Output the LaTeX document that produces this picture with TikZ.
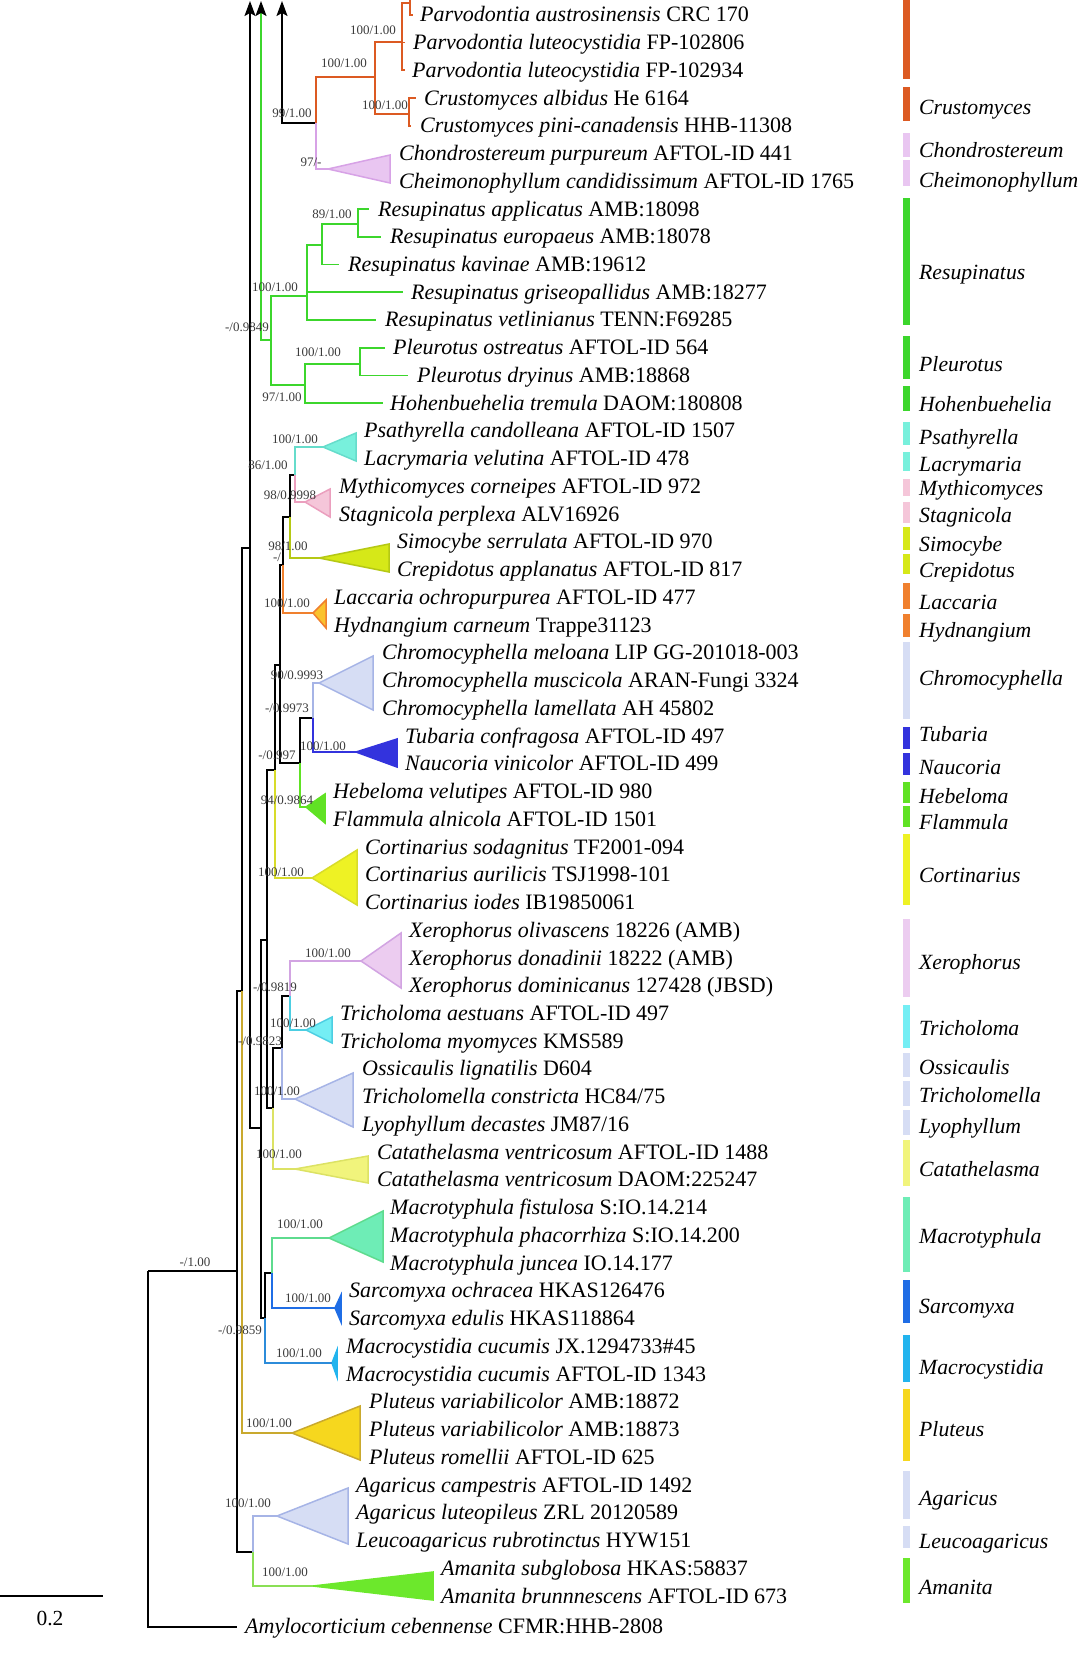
\documentclass[tikz,border=0pt]{standalone}
\usepackage{fontspec}
\setmainfont{Liberation Serif}
\usetikzlibrary{arrows.meta}

\definecolor{crust}{HTML}{DC5A22}
\definecolor{chondln}{HTML}{D7A2E6}
\definecolor{chondfl}{HTML}{E9C6F1}
\definecolor{resu}{HTML}{3CD62C}
\definecolor{psath}{HTML}{78F0DC}
\definecolor{psathln}{HTML}{66DCCB}
\definecolor{mythi}{HTML}{F5C6D9}
\definecolor{mythiln}{HTML}{EB9FBE}
\definecolor{simo}{HTML}{D6E818}
\definecolor{simoln}{HTML}{B5C814}
\definecolor{lacc}{HTML}{F0802E}
\definecolor{laccfl}{HTML}{FAC22E}
\definecolor{chromo}{HTML}{D6DDF4}
\definecolor{chromoln}{HTML}{A6B4E6}
\definecolor{tub}{HTML}{3333DD}
\definecolor{hebe}{HTML}{60E224}
\definecolor{cort}{HTML}{EEF224}
\definecolor{cortln}{HTML}{D8DC2A}
\definecolor{xero}{HTML}{ECCCF0}
\definecolor{xeroln}{HTML}{D2A4E2}
\definecolor{trich}{HTML}{74EEF4}
\definecolor{trichln}{HTML}{4CCEE2}
\definecolor{cata}{HTML}{F1F47C}
\definecolor{cataln}{HTML}{DCE264}
\definecolor{macrot}{HTML}{6EEDB6}
\definecolor{macrotln}{HTML}{5EDB8E}
\definecolor{sarco}{HTML}{1F6DE5}
\definecolor{macroc}{HTML}{22B4EE}
\definecolor{macrocln}{HTML}{2C8CDA}
\definecolor{plut}{HTML}{F6D71E}
\definecolor{plutln}{HTML}{C9A92E}
\definecolor{aman}{HTML}{6CE82C}
\definecolor{amanln}{HTML}{8ADF55}
\definecolor{suppgray}{HTML}{3A3A3A}

\tikzset{
	br/.style={line width=1.7pt},
	elbow/.style={to path={|- (\tikztotarget)}},
	clade/.style={line width=1.5pt, line join=miter},
	taxon/.style={anchor=base west, inner sep=0pt, font=\fontsize{22}{24}\selectfont},
	genus/.style={anchor=base west, inner sep=0pt, font=\fontsize{21.7}{24}\selectfont\itshape},
	supp/.style={inner sep=0pt, text=suppgray, font=\fontsize{13}{14}\selectfont},
	uparrow/.style={-{Stealth[length=15pt,width=11pt,inset=3pt,color=black]}},
}

\begin{document}
\begin{tikzpicture}[x=1pt, y=-1pt]
	
	\useasboundingbox (0,0) rectangle (1080,1654);
	
	% backbone nodes
	\coordinate (root) at (148,1271);
	\coordinate (R) at (237,1271);
	\coordinate (Q) at (242,991);
	\coordinate (P) at (250,548);
	\coordinate (M) at (261,1128);
	\coordinate (I) at (267,940);
	\coordinate (H) at (275,770);
	\coordinate (E) at (280,665);
	\coordinate (D) at (283,565);
	\coordinate (B) at (290,517);
	\coordinate (C) at (295,475);
	\coordinate (F) at (300,763);
	\coordinate (G) at (313,718);
	\coordinate (J) at (273,1108);
	\coordinate (K) at (282,1048);
	\coordinate (L) at (290,996);
	\coordinate (N) at (265,1318);
	\coordinate (O) at (272,1273);
	\coordinate (S) at (253,1552);
	
	% top nodes
	\coordinate (ptop) at (250,1);
	\coordinate (gtop) at (261,1);
	\coordinate (ktop) at (282,1);
	\coordinate (T) at (316,123);
	\coordinate (U) at (375,77);
	\coordinate (V) at (402,42);
	\coordinate (V2) at (410,3);
	\coordinate (V2top) at (410,0);
	\coordinate (W) at (409,114);
	\coordinate (X) at (271,340);
	\coordinate (Y) at (307,296);
	\coordinate (Z) at (322,245);
	\coordinate (AA) at (358,224);
	\coordinate (AB) at (305,385);
	\coordinate (AC) at (360,364);
	
	% leaf ends
	\coordinate (l0) at (413,14.8);
	\coordinate (l1) at (405,42.5);
	\coordinate (l2) at (405,70.3);
	\coordinate (l3) at (416,98);
	\coordinate (l4) at (411,125.8);
	\coordinate (l7) at (369,209);
	\coordinate (l8) at (381,236.7);
	\coordinate (l9) at (339,264.5);
	\coordinate (l10) at (403,292.2);
	\coordinate (l11) at (376,319.9);
	\coordinate (l12) at (385,347.7);
	\coordinate (l13) at (408,375.4);
	\coordinate (l14) at (383,403.2);
	\coordinate (l58) at (237,1627);
	
	% clade tips
	\coordinate (chondT) at (328,169);
	\coordinate (psathT) at (323,447);
	\coordinate (mythiT) at (305,502);
	\coordinate (simoT) at (319,558);
	\coordinate (laccT) at (313,613);
	\coordinate (chromoT) at (319,683);
	\coordinate (tubT) at (356,752);
	\coordinate (hebeT) at (306,807);
	\coordinate (cortT) at (312,878);
	\coordinate (xeroT) at (361,961);
	\coordinate (trichT) at (306,1030);
	\coordinate (lyoT) at (295,1099);
	\coordinate (cataT) at (295,1169);
	\coordinate (macrotT) at (329,1238);
	\coordinate (sarcoT) at (335,1308);
	\coordinate (macrocT) at (332,1363);
	\coordinate (plutT) at (292,1433);
	\coordinate (agarT) at (277,1516);
	\coordinate (amanT) at (313,1586);
	
	% collapsed clades
	\filldraw[clade, draw=chondln, fill=chondfl] (chondT) -- (390,155) -- (390,183) -- cycle;
	\filldraw[clade, draw=psathln, fill=psath] (psathT) -- (356,433) -- (356,461) -- cycle;
	\filldraw[clade, draw=mythiln, fill=mythi] (mythiT) -- (330,489) -- (330,517) -- cycle;
	\filldraw[clade, draw=simoln, fill=simo] (simoT) -- (389,544) -- (389,572) -- cycle;
	\filldraw[clade, draw=lacc, fill=laccfl] (laccT) -- (326,600) -- (326,628) -- cycle;
	\filldraw[clade, draw=chromoln, fill=chromo] (chromoT) -- (373,656) -- (373,710) -- cycle;
	\filldraw[clade, draw=tub, fill=tub] (tubT) -- (397,739) -- (397,767) -- cycle;
	\filldraw[clade, draw=hebe, fill=hebe] (hebeT) -- (325,794) -- (325,823) -- cycle;
	\filldraw[clade, draw=cortln, fill=cort] (cortT) -- (357,850) -- (357,905) -- cycle;
	\filldraw[clade, draw=xeroln, fill=xero] (xeroT) -- (401,933) -- (401,988) -- cycle;
	\filldraw[clade, draw=trichln, fill=trich] (trichT) -- (332,1017) -- (332,1043) -- cycle;
	\filldraw[clade, draw=chromoln, fill=chromo] (lyoT) -- (353,1073) -- (353,1127) -- cycle;
	\filldraw[clade, draw=cataln, fill=cata] (cataT) -- (368,1156) -- (368,1183) -- cycle;
	\filldraw[clade, draw=macrotln, fill=macrot] (macrotT) -- (383,1211) -- (383,1262) -- cycle;
	\filldraw[clade, draw=sarco, fill=sarco] (sarcoT) -- (341,1295) -- (341,1322) -- cycle;
	\filldraw[clade, draw=macroc, fill=macroc] (macrocT) -- (337,1350) -- (337,1377) -- cycle;
	\filldraw[clade, draw=plutln, fill=plut] (plutT) -- (360,1406) -- (360,1460) -- cycle;
	\filldraw[clade, draw=chromoln, fill=chromo] (agarT) -- (348,1488) -- (348,1544) -- cycle;
	\filldraw[clade, draw=aman, fill=aman] (amanT) -- (433,1572) -- (433,1600) -- cycle;
	
	% branches
	\draw[br, uparrow] (P) -- (ptop);
	\draw[br, resu, uparrow] (X) -| (gtop);
	\draw[br, uparrow] (T) -| (ktop);
	
	\path[br] (T) edge[elbow, crust] (U) edge[elbow, chondln] (chondT);
	\path[br] (U) edge[elbow, crust] (V) edge[elbow, crust] (W);
	\path[br] (V) edge[elbow, crust] (V2) edge[elbow, crust] (l1) edge[elbow, crust] (l2);
	\path[br] (V2) edge[elbow, crust] (l0) edge[crust] (V2top);
	\path[br] (W) edge[elbow, crust] (l3) edge[elbow, crust] (l4);
	
	\path[br] (X) edge[elbow, resu] (Y) edge[elbow, resu] (AB);
	\path[br] (Y) edge[elbow, resu] (Z) edge[elbow, resu] (l10) edge[elbow, resu] (l11);
	\path[br] (Z) edge[elbow, resu] (AA) edge[elbow, resu] (l9);
	\path[br] (AA) edge[elbow, resu] (l7) edge[elbow, resu] (l8);
	\path[br] (AB) edge[elbow, resu] (AC) edge[elbow, resu] (l14);
	\path[br] (AC) edge[elbow, resu] (l12) edge[elbow, resu] (l13);
	
	\path[br] (root) edge[elbow] (R) edge[elbow] (l58);
	\path[br] (R) edge[elbow] (Q) edge[elbow] (S);
	\path[br] (Q) edge[elbow] (P) edge[elbow, plutln] (plutT);
	\path[br] (P) edge[elbow] (M);
	\path[br] (M) edge[elbow] (I) edge[elbow] (N);
	\path[br] (I) edge[elbow] (H) edge[elbow] (J);
	\path[br] (H) edge[elbow] (E) edge[elbow, cortln] (cortT);
	\path[br] (E) edge[elbow] (D) edge[elbow] (F);
	\path[br] (D) edge[elbow] (B) edge[elbow, lacc] (laccT);
	\path[br] (B) edge[elbow] (C) edge[elbow, simoln] (simoT);
	\path[br] (C) edge[elbow, psathln] (psathT) edge[elbow, mythiln] (mythiT);
	\path[br] (F) edge[elbow] (G) edge[elbow, hebe] (hebeT);
	\path[br] (G) edge[elbow, chromoln] (chromoT) edge[elbow, tub] (tubT);
	\path[br] (J) edge[elbow] (K) edge[elbow, cataln] (cataT);
	\path[br] (K) edge[elbow] (L) edge[elbow, chromoln] (lyoT);
	\path[br] (L) edge[elbow, xeroln] (xeroT) edge[elbow, trichln] (trichT);
	\path[br] (N) edge[elbow] (O) edge[elbow, macrocln] (macrocT);
	\path[br] (O) edge[elbow, macrotln] (macrotT) edge[elbow, sarco] (sarcoT);
	\path[br] (S) edge[elbow, chromoln] (agarT) edge[elbow, amanln] (amanT);
	
	% support values
	\node[supp] (s1) at (373,30) {100/1.00};
	\node[supp] (s2) at (344,63) {100/1.00};
	\node[supp] (s3) at (385,105) {100/1.00};
	\node[supp] (s4) at (292,113) {99/1.00};
	\node[supp] (s5) at (311,162) {97/-};
	\node[supp] (s6) at (332,214) {89/1.00};
	\node[supp] (s7) at (275,287) {100/1.00};
	\node[supp] (s8) at (247,327) {-/0.9849};
	\node[supp] (s9) at (318,352) {100/1.00};
	\node[supp] (s10) at (282,397) {97/1.00};
	\node[supp] (s11) at (295,439) {100/1.00};
	\node[supp] (s12) at (268,465) {86/1.00};
	\node[supp] (s13) at (290,495) {98/0.9998};
	\node[supp] (s14) at (288,546) {98/1.00};
	\node[supp] (s15) at (277,557) {-/};
	\node[supp] (s16) at (287,603) {100/1.00};
	\node[supp] (s17) at (297,675) {90/0.9993};
	\node[supp] (s18) at (287,708) {-/0.9973};
	\node[supp] (s19) at (323,746) {100/1.00};
	\node[supp] (s20) at (277,755) {-/0.997};
	\node[supp] (s21) at (287,800) {94/0.9864};
	\node[supp] (s22) at (281,872) {100/1.00};
	\node[supp] (s23) at (328,953) {100/1.00};
	\node[supp] (s24) at (275,987) {-/0.9819};
	\node[supp] (s25) at (293,1023) {100/1.00};
	\node[supp] (s26) at (260,1041) {-/0.9823};
	\node[supp] (s27) at (277,1091) {100/1.00};
	\node[supp] (s28) at (279,1154) {100/1.00};
	\node[supp] (s29) at (300,1224) {100/1.00};
	\node[supp] (s30) at (195,1262) {-/1.00};
	\node[supp] (s31) at (308,1298) {100/1.00};
	\node[supp] (s32) at (240,1330) {-/0.9859};
	\node[supp] (s33) at (299,1353) {100/1.00};
	\node[supp] (s34) at (269,1423) {100/1.00};
	\node[supp] (s35) at (248,1503) {100/1.00};
	\node[supp] (s36) at (285,1572) {100/1.00};
	
	% taxa
	\node[taxon] (t0) at (420,21.8) {\textit{Parvodontia austrosinensis} CRC 170};
	\node[taxon] (t1) at (413,49.5) {\textit{Parvodontia luteocystidia} FP-102806};
	\node[taxon] (t2) at (412,77.3) {\textit{Parvodontia luteocystidia} FP-102934};
	\node[taxon] (t3) at (424,105) {\textit{Crustomyces albidus} He 6164};
	\node[taxon] (t4) at (420,132.8) {\textit{Crustomyces pini-canadensis} HHB-11308};
	\node[taxon] (t5) at (399,160.5) {\textit{Chondrostereum purpureum} AFTOL-ID 441};
	\node[taxon] (t6) at (399,188.2) {\textit{Cheimonophyllum candidissimum} AFTOL-ID 1765};
	\node[taxon] (t7) at (378,216) {\textit{Resupinatus applicatus} AMB:18098};
	\node[taxon] (t8) at (390,243.7) {\textit{Resupinatus europaeus} AMB:18078};
	\node[taxon] (t9) at (348,271.5) {\textit{Resupinatus kavinae} AMB:19612};
	\node[taxon] (t10) at (411,299.2) {\textit{Resupinatus griseopallidus} AMB:18277};
	\node[taxon] (t11) at (385,326.9) {\textit{Resupinatus vetlinianus} TENN:F69285};
	\node[taxon] (t12) at (393,354.7) {\textit{Pleurotus ostreatus} AFTOL-ID 564};
	\node[taxon] (t13) at (417,382.4) {\textit{Pleurotus dryinus} AMB:18868};
	\node[taxon] (t14) at (390,410.2) {\textit{Hohenbuehelia tremula} DAOM:180808};
	\node[taxon] (t15) at (364,437.9) {\textit{Psathyrella candolleana} AFTOL-ID 1507};
	\node[taxon] (t16) at (364,465.6) {\textit{Lacrymaria velutina} AFTOL-ID 478};
	\node[taxon] (t17) at (339,493.4) {\textit{Mythicomyces corneipes} AFTOL-ID 972};
	\node[taxon] (t18) at (339,521.1) {\textit{Stagnicola perplexa} ALV16926};
	\node[taxon] (t19) at (397,548.9) {\textit{Simocybe serrulata} AFTOL-ID 970};
	\node[taxon] (t20) at (397,576.6) {\textit{Crepidotus applanatus} AFTOL-ID 817};
	\node[taxon] (t21) at (334,604.3) {\textit{Laccaria ochropurpurea} AFTOL-ID 477};
	\node[taxon] (t22) at (334,632.1) {\textit{Hydnangium carneum} Trappe31123};
	\node[taxon] (t23) at (382,659.8) {\textit{Chromocyphella meloana} LIP GG-201018-003};
	\node[taxon] (t24) at (382,687.6) {\textit{Chromocyphella muscicola} ARAN-Fungi 3324};
	\node[taxon] (t25) at (382,715.3) {\textit{Chromocyphella lamellata} AH 45802};
	\node[taxon] (t26) at (405,743) {\textit{Tubaria confragosa} AFTOL-ID 497};
	\node[taxon] (t27) at (405,770.8) {\textit{Naucoria vinicolor} AFTOL-ID 499};
	\node[taxon] (t28) at (333,798.5) {\textit{Hebeloma velutipes} AFTOL-ID 980};
	\node[taxon] (t29) at (333,826.3) {\textit{Flammula alnicola} AFTOL-ID 1501};
	\node[taxon] (t30) at (365,854) {\textit{Cortinarius sodagnitus} TF2001-094};
	\node[taxon] (t31) at (365,881.7) {\textit{Cortinarius aurilicis} TSJ1998-101};
	\node[taxon] (t32) at (365,909.5) {\textit{Cortinarius iodes} IB19850061};
	\node[taxon] (t33) at (409,937.2) {\textit{Xerophorus olivascens} 18226 (AMB)};
	\node[taxon] (t34) at (409,965) {\textit{Xerophorus donadinii} 18222 (AMB)};
	\node[taxon] (t35) at (409,992.7) {\textit{Xerophorus dominicanus} 127428 (JBSD)};
	\node[taxon] (t36) at (340,1020.4) {\textit{Tricholoma aestuans} AFTOL-ID 497};
	\node[taxon] (t37) at (340,1048.2) {\textit{Tricholoma myomyces} KMS589};
	\node[taxon] (t38) at (362,1075.9) {\textit{Ossicaulis lignatilis} D604};
	\node[taxon] (t39) at (362,1103.7) {\textit{Tricholomella constricta} HC84/75};
	\node[taxon] (t40) at (362,1131.4) {\textit{Lyophyllum decastes} JM87/16};
	\node[taxon] (t41) at (377,1159.1) {\textit{Catathelasma ventricosum} AFTOL-ID 1488};
	\node[taxon] (t42) at (377,1186.9) {\textit{Catathelasma ventricosum} DAOM:225247};
	\node[taxon] (t43) at (390,1214.6) {\textit{Macrotyphula fistulosa} S:IO.14.214};
	\node[taxon] (t44) at (390,1242.4) {\textit{Macrotyphula phacorrhiza} S:IO.14.200};
	\node[taxon] (t45) at (390,1270.1) {\textit{Macrotyphula juncea} IO.14.177};
	\node[taxon] (t46) at (349,1297.8) {\textit{Sarcomyxa ochracea} HKAS126476};
	\node[taxon] (t47) at (349,1325.6) {\textit{Sarcomyxa edulis} HKAS118864};
	\node[taxon] (t48) at (346,1353.3) {\textit{Macrocystidia cucumis} JX.1294733\#45};
	\node[taxon] (t49) at (346,1381.1) {\textit{Macrocystidia cucumis} AFTOL-ID 1343};
	\node[taxon] (t50) at (369,1408.8) {\textit{Pluteus variabilicolor} AMB:18872};
	\node[taxon] (t51) at (369,1436.5) {\textit{Pluteus variabilicolor} AMB:18873};
	\node[taxon] (t52) at (369,1464.3) {\textit{Pluteus romellii} AFTOL-ID 625};
	\node[taxon] (t53) at (356,1492) {\textit{Agaricus campestris} AFTOL-ID 1492};
	\node[taxon] (t54) at (356,1519.8) {\textit{Agaricus luteopileus} ZRL 20120589};
	\node[taxon] (t55) at (356,1547.5) {\textit{Leucoagaricus rubrotinctus} HYW151};
	\node[taxon] (t56) at (441,1575.2) {\textit{Amanita subglobosa} HKAS:58837};
	\node[taxon] (t57) at (441,1603) {\textit{Amanita brunnnescens} AFTOL-ID 673};
	\node[taxon] (t58) at (245,1633) {\textit{Amylocorticium cebennense} CFMR:HHB-2808};
	
	% genus bars
	\fill[crust] (903,0) rectangle (910,79);
	\fill[crust] (903,87) rectangle (910,121);
	\fill[chondfl] (903,133) rectangle (910,157);
	\fill[chondfl] (903,160) rectangle (910,186);
	\fill[resu] (903,198) rectangle (910,325);
	\fill[resu] (903,336) rectangle (910,379);
	\fill[resu] (903,386) rectangle (910,411);
	\fill[psath] (903,422) rectangle (910,445);
	\fill[psath] (903,452) rectangle (910,471);
	\fill[mythi] (903,479) rectangle (910,496);
	\fill[mythi] (903,502) rectangle (910,523);
	\fill[simo] (903,527) rectangle (910,550);
	\fill[simo] (903,554) rectangle (910,574);
	\fill[lacc] (903,583) rectangle (910,609);
	\fill[lacc] (903,614) rectangle (910,637);
	\fill[chromo] (903,642) rectangle (910,719);
	\fill[tub] (903,727) rectangle (910,749);
	\fill[tub] (903,753) rectangle (910,775);
	\fill[hebe] (903,782) rectangle (910,803);
	\fill[hebe] (903,806) rectangle (910,827);
	\fill[cort] (903,834) rectangle (910,905);
	\fill[xero] (903,919) rectangle (910,997);
	\fill[trich] (903,1005) rectangle (910,1048);
	\fill[chromo] (903,1053) rectangle (910,1077);
	\fill[chromo] (903,1081) rectangle (910,1106);
	\fill[chromo] (903,1110) rectangle (910,1135);
	\fill[cata] (903,1140) rectangle (910,1186);
	\fill[macrot] (903,1197) rectangle (910,1272);
	\fill[sarco] (903,1280) rectangle (910,1323);
	\fill[macroc] (903,1335) rectangle (910,1382);
	\fill[plut] (903,1389) rectangle (910,1461);
	\fill[chromo] (903,1471) rectangle (910,1519);
	\fill[chromo] (903,1526) rectangle (910,1548);
	\fill[aman] (903,1558) rectangle (910,1603);
	
	% genus names
	\node[genus] (g1) at (919,114) {Crustomyces};
	\node[genus] (g2) at (919,157) {Chondrostereum};
	\node[genus] (g3) at (919,187) {Cheimonophyllum};
	\node[genus] (g4) at (919,279) {Resupinatus};
	\node[genus] (g5) at (919,371) {Pleurotus};
	\node[genus] (g6) at (919,411) {Hohenbuehelia};
	\node[genus] (g7) at (919,444) {Psathyrella};
	\node[genus] (g8) at (919,471) {Lacrymaria};
	\node[genus] (g9) at (919,495) {Mythicomyces};
	\node[genus] (g10) at (919,522) {Stagnicola};
	\node[genus] (g11) at (919,551) {Simocybe};
	\node[genus] (g12) at (919,577) {Crepidotus};
	\node[genus] (g13) at (919,609) {Laccaria};
	\node[genus] (g14) at (919,637) {Hydnangium};
	\node[genus] (g15) at (919,685) {Chromocyphella};
	\node[genus] (g16) at (919,741) {Tubaria};
	\node[genus] (g17) at (919,774) {Naucoria};
	\node[genus] (g18) at (919,803) {Hebeloma};
	\node[genus] (g19) at (919,829) {Flammula};
	\node[genus] (g20) at (919,882) {Cortinarius};
	\node[genus] (g21) at (919,969) {Xerophorus};
	\node[genus] (g22) at (919,1035) {Tricholoma};
	\node[genus] (g23) at (919,1074) {Ossicaulis};
	\node[genus] (g24) at (919,1102) {Tricholomella};
	\node[genus] (g25) at (919,1133) {Lyophyllum};
	\node[genus] (g26) at (919,1176) {Catathelasma};
	\node[genus] (g27) at (919,1243) {Macrotyphula};
	\node[genus] (g28) at (919,1313) {Sarcomyxa};
	\node[genus] (g29) at (919,1374) {Macrocystidia};
	\node[genus] (g30) at (919,1436) {Pluteus};
	\node[genus] (g31) at (919,1505) {Agaricus};
	\node[genus] (g32) at (919,1548) {Leucoagaricus};
	\node[genus] (g33) at (919,1594) {Amanita};
	
	% scale bar
	\coordinate (sb0) at (0,1596);
	\coordinate (sb1) at (103,1596);
	\draw[line width=1.6pt] (sb0) -- (sb1);
	\node[font=\fontsize{21.5}{24}\selectfont, inner sep=0pt] (sbl) at (50,1618) {0.2};
	
\end{tikzpicture}
\end{document}
